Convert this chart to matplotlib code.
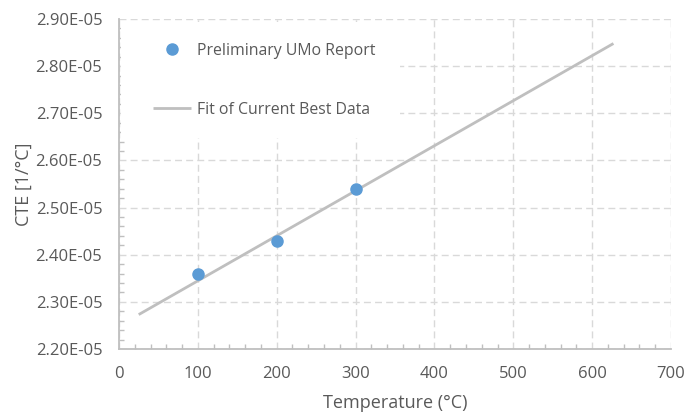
import matplotlib
matplotlib.use("Agg")
import matplotlib.pyplot as plt
from matplotlib.ticker import MultipleLocator, FuncFormatter
from matplotlib.patches import Rectangle

temps = [100, 200, 300]
cte = [2.36e-5, 2.43e-5, 2.54e-5]
fit_t = [25, 627]
fit_cte = [2.273e-5, 2.848e-5]

plt.rcParams['font.family'] = ['Open Sans', 'DejaVu Sans']
txt = '#595959'
axc = '#BFBFBF'

fig = plt.figure(figsize=(6.86, 4.12), dpi=100)
ax = fig.add_axes([119/686, 1-349/412, 552/686, 330/412])

ax.plot(fit_t, fit_cte, color='#BFBFBF', lw=2.0, solid_capstyle='butt',
        label='Fit of Current Best Data', zorder=3)
ax.plot(temps, cte, 'o', color='#5B9BD5', ms=8, mec='#5B9BD5',
        label='Preliminary UMo Report', zorder=4, ls='none')

ax.set_xlim(0, 700)
ax.set_ylim(2.2e-5, 2.9e-5)
ax.xaxis.set_major_locator(MultipleLocator(100))
ax.xaxis.set_minor_locator(MultipleLocator(20))
ax.yaxis.set_major_locator(MultipleLocator(0.1e-5))
ax.yaxis.set_minor_locator(MultipleLocator(0.02e-5))
ax.yaxis.set_major_formatter(FuncFormatter(lambda v, p: f"{v:.2E}"))
ax.yaxis.get_offset_text().set_visible(False)

ax.set_axisbelow(True)
ax.grid(True, which='major', color='#D9D9D9', ls=(0, (5, 3)), lw=1.0)

for s in ['top', 'right']:
    ax.spines[s].set_visible(False)
for s in ['left', 'bottom']:
    ax.spines[s].set_color(axc)
    ax.spines[s].set_linewidth(1.3)

ax.tick_params(which='major', direction='in', length=0, labelsize=12,
               labelcolor=txt, color=axc)
ax.tick_params(axis='y', which='major', pad=12)
ax.tick_params(axis='x', which='major', pad=12)
ax.tick_params(which='minor', direction='in', length=3.5, color=axc, width=1)

ax.set_xlabel('Temperature (°C)', fontsize=13, color=txt, labelpad=9)
ax.set_ylabel('CTE [1/°C]', fontsize=13, color=txt, labelpad=2)

ax.add_patch(Rectangle((0.003, 0.64), 0.506, 0.35, transform=ax.transAxes,
                       facecolor='white', edgecolor='none', zorder=1.5))

h, l = ax.get_legend_handles_labels()
leg = ax.legend(h[::-1], l[::-1], loc='upper left', bbox_to_anchor=(0.062, 0.928),
                frameon=False, fontsize=11.4, labelcolor=txt, handlelength=2.4,
                handletextpad=0.35, labelspacing=2.72, borderaxespad=0, borderpad=0,
                numpoints=1)
leg.set_zorder(5)

fig.savefig('out.png', dpi=100)
